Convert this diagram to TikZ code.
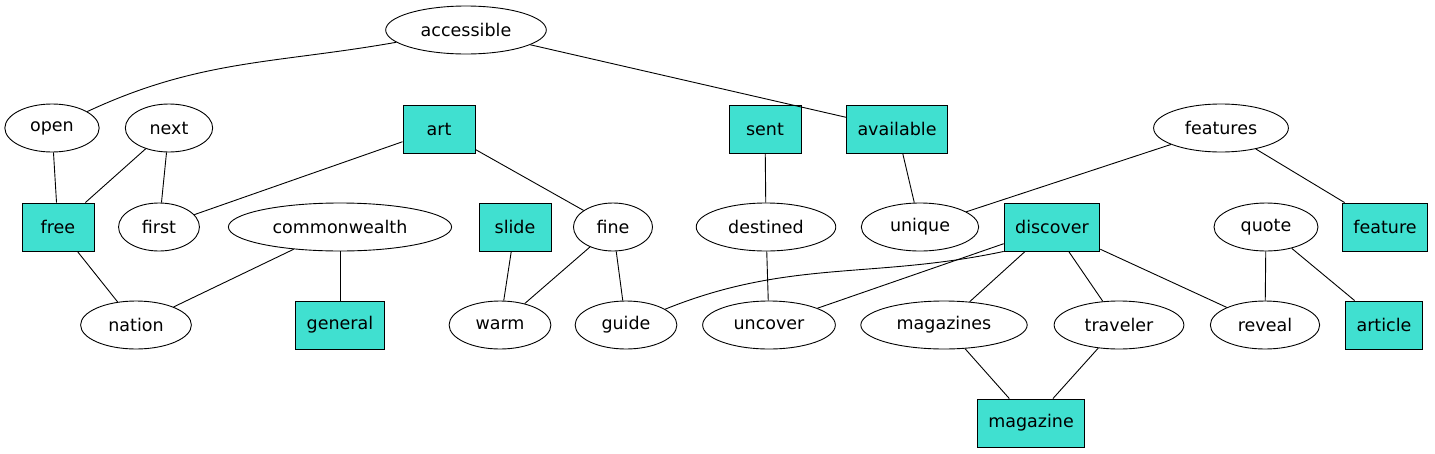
\documentclass[tikz,border=0pt]{standalone}
\usepackage{fontspec}
\setmainfont{DejaVu Sans}
\usepackage{xcolor}
\usepackage{tikz}
\usetikzlibrary{shapes.geometric}
\definecolor{boxcolor}{HTML}{40E0D0}

\begin{document}
\begin{tikzpicture}[x=1pt,y=1pt,line width=0.9pt,
    font=\fontsize{17.5}{21}\selectfont,
    word/.style={draw,ellipse,minimum width=72pt,minimum height=48pt,inner xsep=11.5pt,inner ysep=0pt},
    term/.style={draw,rectangle,fill=boxcolor,minimum width=72pt,minimum height=48pt,inner xsep=11pt}]
\useasboundingbox (0,0) rectangle (1435,-453);
%% ellipse nodes
\foreach \n/\x/\y in {accessible/466/30, open/52/128, next/169/128, features/1221/128,
    first/159/227, commonwealth/340/227, fine/613/227, destined/766/227, unique/920/227, quote/1266/227,
    nation/136/325, warm/500/325, guide/626/325, uncover/769/325, magazines/944/325, traveler/1119/325, reveal/1265/325}
    \node[word] (\n) at (\x,-\y) {\n};
%% box nodes
\foreach \n/\x/\y in {art/439/129, sent/765/129, available/897/129,
    free/58/227, slide/515/227, discover/1052/227, feature/1385/227,
    general/340/325, article/1384/325, magazine/1031/423}
    \node[term] (\n) at (\x,-\y) {\n};
%% edges
\draw (accessible) to[out=190,in=25] (open);
\draw (accessible) -- (available);
\draw (discover.south west) to[out=192,in=22] (guide);
\foreach \a/\b in {open/free, next/free, next/first, art/first, art/fine, sent/destined,
    available/unique, features/unique, features/feature, free/nation, commonwealth/nation,
    commonwealth/general, slide/warm, fine/warm, fine/guide, destined/uncover, discover/uncover,
    discover/magazines, discover/traveler, discover/reveal, quote/reveal, quote/article,
    magazines/magazine, traveler/magazine}
    \draw (\a) -- (\b);
\end{tikzpicture}
\end{document}
